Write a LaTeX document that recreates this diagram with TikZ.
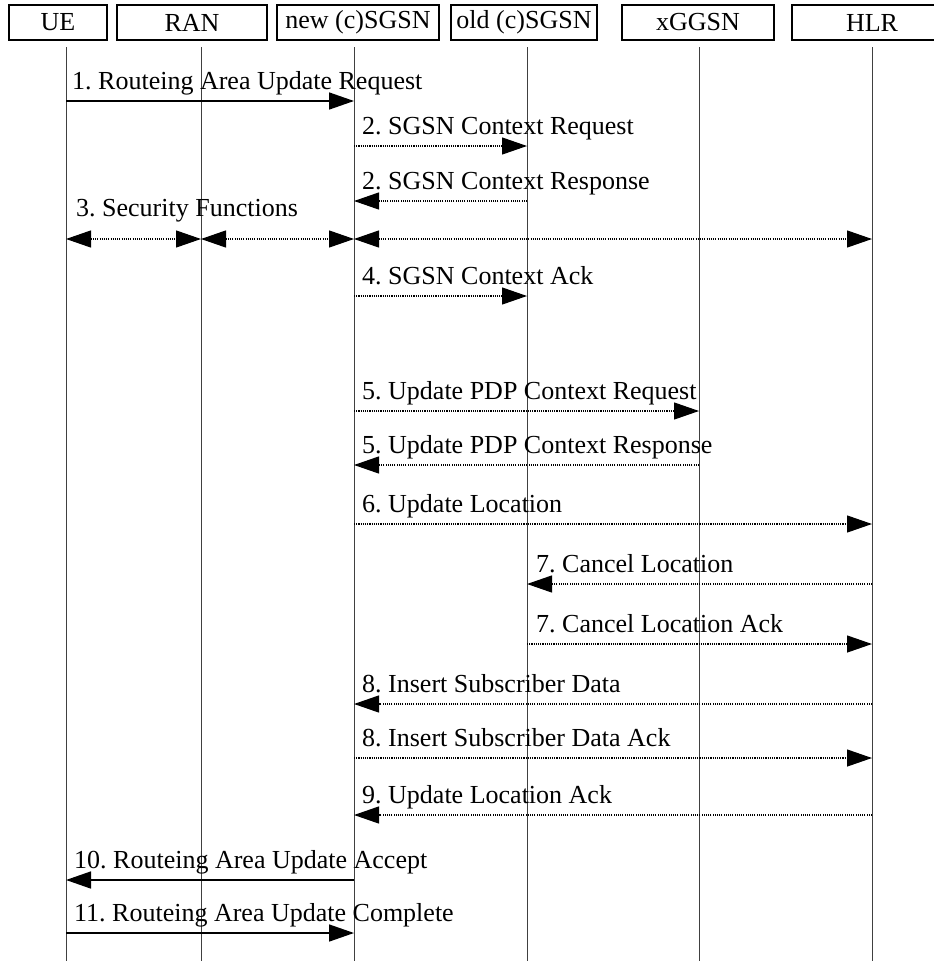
\documentclass[tikz,border=0pt]{standalone}
\usepackage{fontspec}
\setmainfont{Liberation Serif}
\usetikzlibrary{arrows.meta}
\frenchspacing
\begin{document}
\frenchspacing
\begin{tikzpicture}[x=1pt,y=-1pt,
  head/.style={draw, line width=1.3pt, minimum height=35pt, inner sep=0pt, font=\fontsize{26}{30}\selectfont},
  life/.style={draw=black!75, line width=0.9pt},
  tipend/.style={-{Triangle[length=25pt,width=17pt]}},
  bothend/.style={{Triangle[length=25pt,width=17pt]}-{Triangle[length=25pt,width=17pt]}},
  solidmsg/.style={line width=1.6pt},
  dotmsg/.style={line width=1.2pt, dash pattern=on 1.1pt off 1.1pt},
  lbl/.style={anchor=base west, inner sep=0pt, font=\fontsize{26}{30}\selectfont}]
\clip (0,0) rectangle (934,961);
% heads
\node[head, minimum width=98pt]  (UE)   at (58,22.5)  {UE};
\node[head, minimum width=150pt] (RAN)  at (192,22.5) {RAN};
\node[head, minimum width=162pt] (NEW)  at (358,22.5) {new (c)SGSN};
\node[head, minimum width=146pt] (OLD)  at (524,22.5) {old (c)SGSN};
\node[head, minimum width=152pt] (GG)   at (698,22.5) {xGGSN};
\node[head, minimum width=160pt] (HLR)  at (872,22.5) {HLR};
% lifeline ends
\coordinate (ueT) at (66,47);   \coordinate (ueB) at (66,961);
\coordinate (ranT) at (201,47); \coordinate (ranB) at (201,961);
\coordinate (newT) at (354,47); \coordinate (newB) at (354,961);
\coordinate (oldT) at (527,47); \coordinate (oldB) at (527,961);
\coordinate (ggT) at (699,47);  \coordinate (ggB) at (699,961);
\coordinate (hlrT) at (872,47); \coordinate (hlrB) at (872,961);
\foreach \a/\b in {ueT/ueB, ranT/ranB, newT/newB, oldT/oldB, ggT/ggB, hlrT/hlrB}
  \draw[life] (\a) -- (\b);
% message levels
\coordinate (m1) at (0,101);
\coordinate (m2) at (0,146);
\coordinate (m3) at (0,201);
\coordinate (m4) at (0,239);
\coordinate (m5) at (0,296);
\coordinate (m6) at (0,411);
\coordinate (m7) at (0,465);
\coordinate (m8) at (0,524);
\coordinate (m9) at (0,584);
\coordinate (m10) at (0,644);
\coordinate (m11) at (0,704);
\coordinate (m12) at (0,758);
\coordinate (m13) at (0,815);
\coordinate (m14) at (0,880);
\coordinate (m15) at (0,933);
% messages
\draw[solidmsg, tipend] (ueT |- m1) -- (newT |- m1);
\node[lbl] (l1) at (72,89) {1. Routeing Area Update Request};
\draw[dotmsg, tipend] (newT |- m2) -- (oldT |- m2);
\node[lbl] (l2) at (362,134) {2. SGSN Context Request};
\draw[dotmsg, tipend] (oldT |- m3) -- (newT |- m3);
\node[lbl] (l3) at (362,189) {2. SGSN Context Response};
\draw[dotmsg, bothend] (ueT |- m4) -- (ranT |- m4);
\draw[dotmsg, bothend] (ranT |- m4) -- (newT |- m4);
\draw[dotmsg, bothend] (newT |- m4) -- (hlrT |- m4);
\node[lbl] (l4) at (76,216) {3. Security Functions};
\draw[dotmsg, tipend] (newT |- m5) -- (oldT |- m5);
\node[lbl] (l5) at (362,284) {4. SGSN Context Ack};
\draw[dotmsg, tipend] (newT |- m6) -- (ggT |- m6);
\node[lbl] (l6) at (362,399) {5. Update PDP Context Request};
\draw[dotmsg, tipend] (ggT |- m7) -- (newT |- m7);
\node[lbl] (l7) at (362,453) {5. Update PDP Context Response};
\draw[dotmsg, tipend] (newT |- m8) -- (hlrT |- m8);
\node[lbl] (l8) at (362,512) {6. Update Location};
\draw[dotmsg, tipend] (hlrT |- m9) -- (oldT |- m9);
\node[lbl] (l9) at (536,572) {7. Cancel Location};
\draw[dotmsg, tipend] (oldT |- m10) -- (hlrT |- m10);
\node[lbl] (l10) at (536,632) {7. Cancel Location Ack};
\draw[dotmsg, tipend] (hlrT |- m11) -- (newT |- m11);
\node[lbl] (l11) at (362,692) {8. Insert Subscriber Data};
\draw[dotmsg, tipend] (newT |- m12) -- (hlrT |- m12);
\node[lbl] (l12) at (362,746) {8. Insert Subscriber Data Ack};
\draw[dotmsg, tipend] (hlrT |- m13) -- (newT |- m13);
\node[lbl] (l13) at (362,803) {9. Update Location Ack};
\draw[solidmsg, tipend] (newT |- m14) -- (ueT |- m14);
\node[lbl] (l14) at (74,868) {10. Routeing Area Update Accept};
\draw[solidmsg, tipend] (ueT |- m15) -- (newT |- m15);
\node[lbl] (l15) at (74,921) {11. Routeing Area Update Complete};
\end{tikzpicture}
\end{document}
